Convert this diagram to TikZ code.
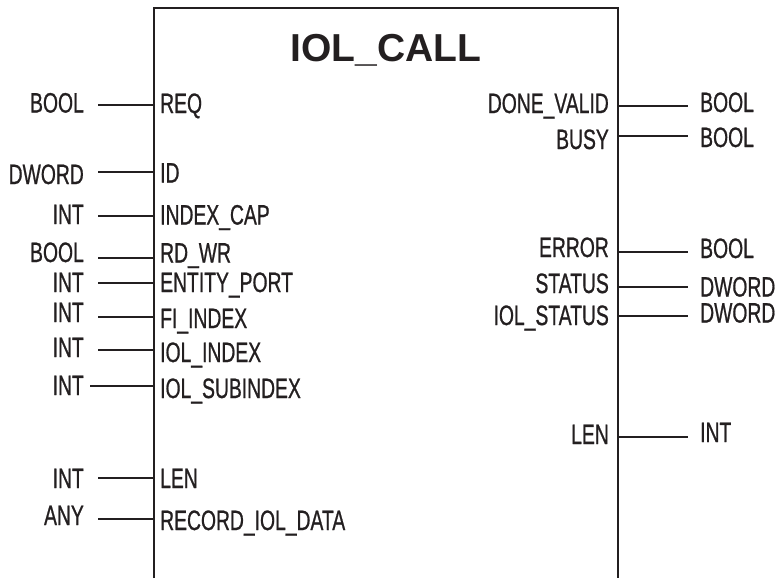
\documentclass[tikz,border=0pt]{standalone}
\usepackage{fontspec}
\setmainfont{Liberation Sans}
\newfontfamily\pinfont{Liberation Sans}[FakeBold=1]
\usepackage{graphicx}
\definecolor{ink}{HTML}{231F20}
\newcommand\cnd[1]{\scalebox{0.69}[1]{#1}}
\begin{document}
\begin{tikzpicture}[x=1pt,y=-1pt,
  pin/.style={draw=ink,line width=1.2pt},
  lbl/.style={inner sep=0pt,text=ink,font=\pinfont\fontsize{28}{30}\selectfont},
  title/.style={inner sep=0pt,text=ink,font=\fontsize{39}{42}\selectfont\bfseries}]
\useasboundingbox (0,0) rectangle (776,578);
% block outline (open at bottom)
\coordinate (bl) at (154,578);
\coordinate (tl) at (154,8);
\coordinate (tr) at (618,8);
\coordinate (br) at (618,578);
\draw[draw=ink,line width=2.8pt] (bl) -- (tl) -- (tr) -- (br);
\node[title,anchor=base] (ttl) at (386,62) {IOL\_CALL};

% ---- left inputs: name, type, line y, type centre y, label centre y, line start x
\foreach \nm/\ty/\ly/\tc/\lc/\xs in {
  REQ/BOOL/105/102.5/103/98,
  ID/DWORD/172/174/172.5/98,
  INDEX\_CAP/INT/216/214/214.5/98,
  RD\_WR/BOOL/258/252/252.5/98,
  ENTITY\_PORT/INT/283/282/282/98,
  FI\_INDEX/INT/317/312/318/98,
  IOL\_INDEX/INT/350/347/352/98,
  IOL\_SUBINDEX/INT/386/385/388/90,
  LEN/INT/478/478/478/98,
  RECORD\_IOL\_DATA/ANY/519/515/520/98}{
  \node[lbl,anchor=base east] (t\ly) at (84,\tc+10) {\cnd{\ty}};
  \node[lbl,anchor=base west] (n\ly) at (160,\lc+10) {\cnd{\nm}};
  \coordinate (a\ly) at (\xs,\ly);
  \coordinate (b\ly) at (154,\ly);
  \draw[pin] (a\ly) -- (b\ly);
}

% ---- right outputs
\foreach \nm/\ty/\ly/\tc/\lc in {
  DONE\_VALID/BOOL/106/102/103,
  BUSY/BOOL/136/137/139,
  ERROR/BOOL/252/248/247,
  STATUS/DWORD/287/286.5/283,
  IOL\_STATUS/DWORD/316/312.5/315,
  LEN/INT/437/432/434}{
  \node[lbl,anchor=base east] (o\ly) at (609,\lc+10) {\cnd{\nm}};
  \node[lbl,anchor=base west] (r\ly) at (700,\tc+10) {\cnd{\ty}};
  \coordinate (c\ly) at (618,\ly);
  \coordinate (d\ly) at (688,\ly);
  \draw[pin] (c\ly) -- (d\ly);
}
\end{tikzpicture}
\end{document}
